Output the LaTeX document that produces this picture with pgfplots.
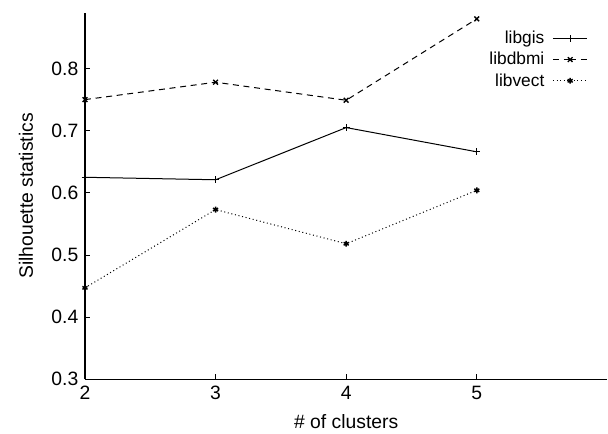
\documentclass[border=0pt]{standalone}
\usepackage{pgfplots}
\pgfplotsset{compat=1.18}
\usepackage{fontspec}
\setmainfont{Liberation Sans}
\begin{document}
\begin{tikzpicture}
\begin{axis}[
  name=ax,
  scale only axis,
  width=392pt, height=275pt,
  xmin=2, xmax=6, ymin=0.3, ymax=0.89,
  xtick={2,3,4,5}, ytick={0.3,0.4,0.5,0.6,0.7,0.8},
  yticklabel style={/pgf/number format/fixed, /pgf/number format/precision=1, xshift=-1.5pt},
  /pgf/number format/assume math mode=true,
  axis x line=bottom, axis y line=left,
  axis line style={-, line width=0.9pt},
  tick align=inside, major tick length=4pt,
  tick style={line width=0.6pt, black},
  tick label style={font=\fontsize{14.5}{16}\selectfont},
  label style={font=\fontsize{14.5}{16}\selectfont},
  xlabel={\# of clusters},
  ylabel={Silhouette statistics},
  xticklabel style={yshift=-1.5pt},
  xlabel style={at={(axis description cs:0.5,-0.135)}, anchor=base},
  ylabel style={at={(axis description cs:-0.0995,0.5)}, anchor=base},
  legend style={at={(0.971,0.965)}, anchor=north east, draw=none, fill=none,
    font=\fontsize{13}{15}\selectfont, row sep=1pt, column sep=4pt, legend cell align=right},
  legend plot pos=right,
  legend image code/.code={\draw[#1] (0pt,0pt) -- (13pt,0pt) plot coordinates {(13pt,0pt)} -- (26pt,0pt);},
]
\addplot[black, line width=0.75pt, mark=+, mark size=2.5pt, mark options={solid}] coordinates {(2,0.625) (3,0.621) (4,0.705) (5,0.666)};
\addlegendentry{libgis}
\addplot[black, line width=0.75pt, dash pattern=on 4.5pt off 3.5pt, mark=x, mark size=2.5pt, mark options={solid, line width=1pt}] coordinates {(2,0.750) (3,0.778) (4,0.749) (5,0.880)};
\addlegendentry{libdbmi}
\addplot[black, line width=0.75pt, dotted, mark=asterisk, mark size=2.2pt, mark options={solid, line width=1.1pt}] coordinates {(2,0.447) (3,0.573) (4,0.518) (5,0.604)};
\addlegendentry{libvect}
\end{axis}
\path ([xshift=-63.75pt, yshift=-36.75pt]ax.south west);
\path ([yshift=9.5pt]ax.north east);
\end{tikzpicture}
\end{document}
